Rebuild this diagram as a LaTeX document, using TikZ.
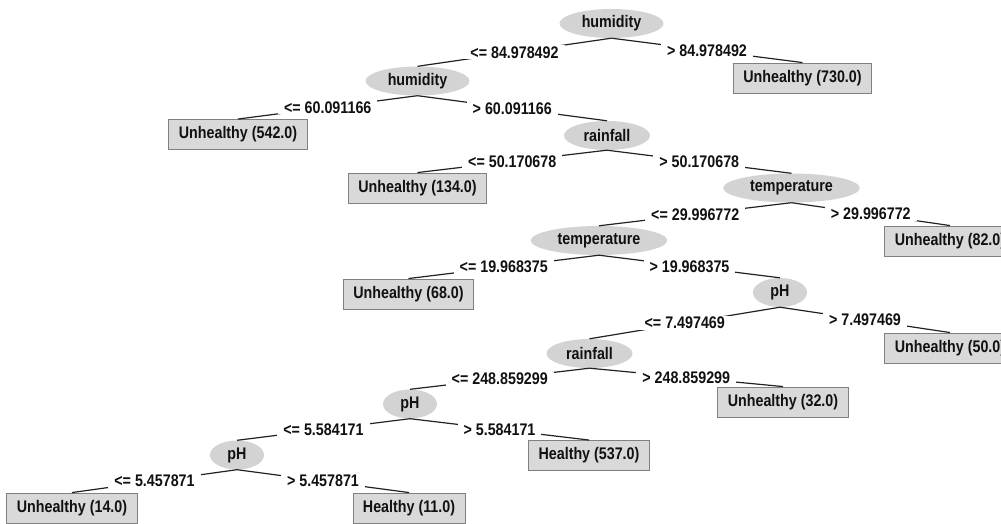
\documentclass[tikz,border=0pt]{standalone}
\usepackage{fontspec}
\setmainfont[FakeStretch=0.85]{Liberation Sans}
\usepackage{xcolor}
\usepackage{tikz}
\usetikzlibrary{shapes.geometric}
\definecolor{splitfill}{HTML}{D3D3D3}
\definecolor{leaffill}{HTML}{D9D9D9}
\definecolor{leafline}{HTML}{808080}
\definecolor{edgeline}{HTML}{222222}
\definecolor{ink}{HTML}{111111}

\begin{document}
\begin{tikzpicture}[x=1pt, y=-1pt,
    every node/.style={text=ink, font=\fontsize{16.8}{19}\selectfont\bfseries},
    split/.style={ellipse, fill=splitfill, inner xsep=7pt, inner ysep=0pt,
      minimum width=54pt, minimum height=29pt},
    leaf/.style={rectangle, fill=leaffill, draw=leafline, line width=0.9pt,
      inner xsep=10pt, inner ysep=0pt, minimum height=30pt},
    cond/.style={midway, fill=white, inner xsep=6pt, inner ysep=1pt},
    branch/.style={edgeline, line width=1.2pt}]

  \clip (0,0) rectangle (1001,524);
  \fill[white] (0,0) rectangle (1001,524);

  % ============== Split nodes ==============
  \node[split] (hum1)  at (611.5,23.5) {humidity};
  \node[split] (hum2)  at (417.5,81)   {humidity};
  \node[split] (rain1) at (607,135.5)  {rainfall};
  \node[split] (temp1) at (791.5,188)  {temperature};
  \node[split] (temp2) at (599,240.5)  {temperature};
  \node[split] (ph1)   at (780,292.5)  {pH};
  \node[split] (rain2) at (589.5,353.5) {rainfall};
  \node[split] (ph2)   at (410,404)    {pH};
  \node[split] (ph3)   at (237,455)    {pH};

  % ============== Leaves ==============
  \node[leaf] (u730) at (802.5,78)   {Unhealthy (730.0)};
  \node[leaf] (u542) at (238,134.5)  {Unhealthy (542.0)};
  \node[leaf] (u134) at (417.5,188)  {Unhealthy (134.0)};
  \node[leaf] (u82)  at (950,241)    {Unhealthy (82.0)};
  \node[leaf] (u68)  at (408.5,294)  {Unhealthy (68.0)};
  \node[leaf] (u50)  at (950,348)    {Unhealthy (50.0)};
  \node[leaf] (u32)  at (783,402)    {Unhealthy (32.0)};
  \node[leaf] (h537) at (589,455.5)  {Healthy (537.0)};
  \node[leaf] (u14)  at (72,508)     {Unhealthy (14.0)};
  \node[leaf] (h11)  at (409,508)    {Healthy (11.0)};

  % ============== Branches ==============
  \draw[branch] (hum1.south) -- (hum2.north) node[cond] {<= 84.978492};
  \draw[branch] (hum1.south) -- (u730.north) node[cond] {> 84.978492};

  \draw[branch] (hum2.south) -- (u542.north) node[cond] {<= 60.091166};
  \draw[branch] (hum2.south) -- (rain1.north) node[cond] {> 60.091166};

  \draw[branch] (rain1.south) -- (u134.north) node[cond] {<= 50.170678};
  \draw[branch] (rain1.south) -- (temp1.north) node[cond] {> 50.170678};

  \draw[branch] (temp1.south) -- (temp2.north) node[cond] {<= 29.996772};
  \draw[branch] (temp1.south) -- (u82.north) node[cond] {> 29.996772};

  \draw[branch] (temp2.south) -- (u68.north) node[cond] {<= 19.968375};
  \draw[branch] (temp2.south) -- (ph1.north) node[cond] {> 19.968375};

  \draw[branch] (ph1.south) -- (rain2.north) node[cond] {<= 7.497469};
  \draw[branch] (ph1.south) -- (u50.north) node[cond] {> 7.497469};

  \draw[branch] (rain2.south) -- (ph2.north) node[cond] {<= 248.859299};
  \draw[branch] (rain2.south) -- (u32.north) node[cond] {> 248.859299};

  \draw[branch] (ph2.south) -- (ph3.north) node[cond] {<= 5.584171};
  \draw[branch] (ph2.south) -- (h537.north) node[cond] {> 5.584171};

  \draw[branch] (ph3.south) -- (u14.north) node[cond] {<= 5.457871};
  \draw[branch] (ph3.south) -- (h11.north) node[cond] {> 5.457871};

\end{tikzpicture}
\end{document}
